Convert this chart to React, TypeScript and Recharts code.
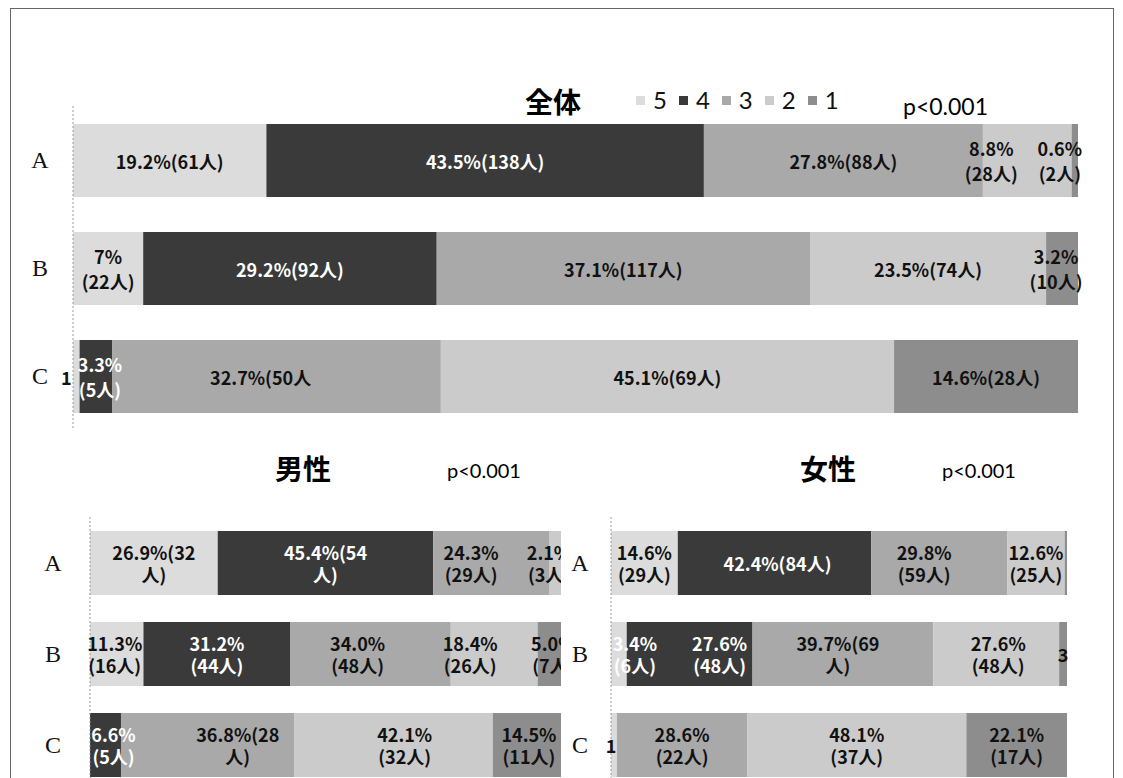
import React from "react";
import { BarChart, Bar, XAxis, YAxis, LabelList, Legend } from "recharts";

// Response levels (stack order, left to right) and question rows
const LEVELS = ["5", "4", "3", "2", "1"];
const ROWS = ["A", "B", "C"];

// 全体: respondents per level, rows A/B/C
const allCount5 = [61, 22, 1];
const allCount4 = [138, 92, 5];
const allCount3 = [88, 117, 50];
const allCount2 = [28, 74, 69];
const allCount1 = [2, 10, 28];

// 男性
const maleCount5 = [32, 16, 0];
const maleCount4 = [54, 44, 5];
const maleCount3 = [29, 48, 28];
const maleCount2 = [3, 26, 32];
const maleCount1 = [0, 7, 11];

// 女性
const femaleCount5 = [29, 6, 1];
const femaleCount4 = [84, 48, 0];
const femaleCount3 = [59, 69, 22];
const femaleCount2 = [25, 48, 37];
const femaleCount1 = [1, 3, 17];

// Data label texts ("\n" splits a label into two lines)
const allText5 = ["19.2%(61人)", "7%\n(22人)", "1"];
const allText4 = ["43.5%(138人)", "29.2%(92人)", "3.3%\n(5人)"];
const allText3 = ["27.8%(88人)", "37.1%(117人)", "32.7%(50人"];
const allText2 = ["8.8%\n(28人)", "23.5%(74人)", "45.1%(69人)"];
const allText1 = ["0.6%\n(2人)", "3.2%\n(10人)", "14.6%(28人)"];

const maleText5 = ["26.9%(32\n人)", "11.3%\n(16人)", ""];
const maleText4 = ["45.4%(54\n人)", "31.2%\n(44人)", "6.6%\n(5人)"];
const maleText3 = ["24.3%\n(29人)", "34.0%\n(48人)", "36.8%(28\n人)"];
const maleText2 = ["2.1%\n(3人)", "18.4%\n(26人)", "42.1%\n(32人)"];
const maleText1 = ["", "5.0%\n(7人)", "14.5%\n(11人)"];

const femaleText5 = ["14.6%\n(29人)", "3.4%\n(6人)", "1"];
const femaleText4 = ["42.4%(84人)", "27.6%\n(48人)", ""];
const femaleText3 = ["29.8%\n(59人)", "39.7%(69\n人)", "28.6%\n(22人)"];
const femaleText2 = ["12.6%\n(25人)", "27.6%\n(48人)", "48.1%\n(37人)"];
const femaleText1 = ["", "3", "22.1%\n(17人)"];

const P_TEXT = "p<0.001";

// ---- styling ----
const FILLS: Record<string, string> = {
  "5": "#dcdcdc",
  "4": "#3a3a3a",
  "3": "#a9a9a9",
  "2": "#cbcbcb",
  "1": "#8d8d8d",
};
const LABEL_FONT = "'Noto Sans CJK JP', 'Noto Sans', sans-serif";
const LATIN_FONT = "Lato, 'Open Sans', sans-serif";

// horizontal nudges of data labels, per level, per row
const allShift: Record<string, number[]> = {
  "5": [0, 0, -10],
  "4": [0, 0, 4],
  "3": [0, 0, -16],
  "2": [-36, 0, 0],
  "1": [-15, -6, 0],
};
const maleShift: Record<string, number[]> = {
  "5": [0, -2, 0],
  "4": [0, 0, 8],
  "3": [-20, -13, 30],
  "2": [-6, -24, 11],
  "1": [0, 4, 2],
};
const femaleShift: Record<string, number[]> = {
  "5": [0, 16, -3],
  "4": [3, 30, 0],
  "3": [-15, -5, 0],
  "2": [0, 2, 0],
  "1": [0, 0, 0],
};

function buildRows(c5: number[], c4: number[], c3: number[], c2: number[], c1: number[]) {
  return ROWS.map((name, i) => ({ name, l5: c5[i], l4: c4[i], l3: c3[i], l2: c2[i], l1: c1[i] }));
}

const allData = buildRows(allCount5, allCount4, allCount3, allCount2, allCount1);
const maleData = buildRows(maleCount5, maleCount4, maleCount3, maleCount2, maleCount1);
const femaleData = buildRows(femaleCount5, femaleCount4, femaleCount3, femaleCount2, femaleCount1);

const allTexts: Record<string, string[]> = { "5": allText5, "4": allText4, "3": allText3, "2": allText2, "1": allText1 };
const maleTexts: Record<string, string[]> = { "5": maleText5, "4": maleText4, "3": maleText3, "2": maleText2, "1": maleText1 };
const femaleTexts: Record<string, string[]> = { "5": femaleText5, "4": femaleText4, "3": femaleText3, "2": femaleText2, "1": femaleText1 };

function labelColor(level: string, override: string[] | undefined, row: number) {
  if (override && override[row]) return override[row];
  return level === "4" ? "#ffffff" : "#111111";
}

// The label list is keyed on the row name so each label finds its own row
function makeLabel(
  level: string,
  texts: string[],
  shifts: number[],
  lineGap: number,
  colorOverride?: string[]
) {
  return (props: any) => {
    const vb = props.viewBox && typeof props.viewBox.width === "number" ? props.viewBox : props;
    const { x, y, width, height } = vb;
    const row = ROWS.indexOf(String(props.value));
    if (row < 0) return null;
    const text = texts[row];
    if (!text) return null;
    const lines = text.split("\n");
    const fontSize = 18;
    const cx = x + width / 2 + (shifts[row] || 0);
    const cy = y + height / 2 + 2;
    const fill = labelColor(level, colorOverride, row);
    return (
      <text
        key={`lbl-${level}-${row}`}
        textAnchor="middle"
        fontFamily={LABEL_FONT}
        fontWeight={700}
        fontSize={fontSize}
        fill={fill}
      >
        {lines.map((ln, i) => (
          <tspan key={i} x={cx} y={cy + (i - (lines.length - 1) / 2) * lineGap + fontSize * 0.36}>
            {ln}
          </tspan>
        ))}
      </text>
    );
  };
}

function categoryTick(offset: number) {
  return (props: any) => {
    const { x, y, payload } = props;
    return (
      <text
        x={x - offset}
        y={y + 8}
        textAnchor="middle"
        fontFamily="'Liberation Serif', 'DejaVu Serif', serif"
        fontSize={24}
        fill="#111"
      >
        {payload.value}
      </text>
    );
  };
}

const renderLegend = (props: any) => {
  const items = [...(props.payload || [])].sort(
    (a: any, b: any) => LEVELS.indexOf(String(a.value)) - LEVELS.indexOf(String(b.value))
  );
  return (
    <div style={{ display: "flex", alignItems: "center", fontFamily: LATIN_FONT, fontSize: 24, color: "#111", lineHeight: 1 }}>
      {items.map((it: any) => (
        <div key={it.value} style={{ display: "flex", alignItems: "center", marginRight: 12 }}>
          <span style={{ display: "inline-block", width: 9, height: 9, background: it.color, marginRight: 8 }} />
          <span>{it.value}</span>
        </div>
      ))}
    </div>
  );
};

type PanelProps = {
  data: any[];
  texts: Record<string, string[]>;
  shifts: Record<string, number[]>;
  width: number;
  height: number;
  margin: { top: number; right: number; bottom: number; left: number };
  axisWidth: number;
  barSize: number;
  tickOffset: number;
  lineGap: number;
  colorOverride?: Record<string, string[]>;
  withLegend?: boolean;
};

function Panel(p: PanelProps) {
  return (
    <BarChart
      width={p.width}
      height={p.height}
      data={p.data}
      layout="vertical"
      stackOffset="expand"
      margin={p.margin}
      barSize={p.barSize}
    >
      <XAxis type="number" hide domain={[0, 1]} />
      <YAxis
        type="category"
        dataKey="name"
        width={p.axisWidth}
        tickSize={0}
        tickMargin={0}
        tickLine={false}
        axisLine={{ stroke: "#9a9a9a", strokeDasharray: "2 2" }}
        tick={categoryTick(p.tickOffset)}
      />
      {p.withLegend && (
        <Legend
          layout="horizontal"
          verticalAlign="middle"
          align="center"
          content={renderLegend}
          wrapperStyle={{ position: "absolute", top: 88, left: 636, width: "auto" }}
        />
      )}
      {LEVELS.map((lv) => (
        <Bar key={lv} dataKey={`l${lv}`} name={lv} stackId="s" fill={FILLS[lv]} isAnimationActive={false}>
          <LabelList
            dataKey="name"
            content={makeLabel(lv, p.texts[lv], p.shifts[lv], p.lineGap, p.colorOverride ? p.colorOverride[lv] : undefined)}
          />
        </Bar>
      ))}
    </BarChart>
  );
}

const abs = (style: React.CSSProperties): React.CSSProperties => ({ position: "absolute", ...style });

export default function App() {
  return (
    <div style={{ position: "fixed", left: 0, top: 0, width: 1123, height: 778, overflow: "hidden", background: "#fff" }}>
      <div style={abs({ left: 10, top: 8, width: 1102, height: 800, border: "1px solid #666" })} />

      {/* 全体 */}
      <div style={abs({ left: 0, top: 0, width: 1090, height: 440, overflow: "hidden" })}>
        <Panel
          data={allData}
          texts={allTexts}
          shifts={allShift}
          width={1090}
          height={440}
          margin={{ top: 106, right: 12, bottom: 10, left: 0 }}
          axisWidth={73}
          barSize={73}
          tickOffset={33}
          lineGap={25}
          withLegend
        />
      </div>
      <div style={abs({ left: 553, top: 101, transform: "translate(-50%, -50%)", fontFamily: LABEL_FONT, fontWeight: 700, fontSize: 28, lineHeight: 1 })}>
        全体
      </div>
      <div style={abs({ left: 903, top: 106, transform: "translateY(-50%)", fontFamily: LATIN_FONT, fontSize: 23, lineHeight: 1 })}>
        {P_TEXT}
      </div>

      {/* 男性 */}
      <div style={abs({ left: 0, top: 500, width: 561, height: 278, overflow: "hidden" })}>
        <Panel
          data={maleData}
          texts={maleTexts}
          shifts={maleShift}
          width={561}
          height={300}
          margin={{ top: 17, right: 0, bottom: 10, left: 0 }}
          axisWidth={90}
          barSize={64}
          tickOffset={37}
          lineGap={22}
        />
      </div>
      <div style={abs({ left: 303, top: 468, transform: "translate(-50%, -50%)", fontFamily: LABEL_FONT, fontWeight: 700, fontSize: 28, lineHeight: 1 })}>
        男性
      </div>
      <div style={abs({ left: 447, top: 470, transform: "translateY(-50%)", fontFamily: LATIN_FONT, fontSize: 20, lineHeight: 1 })}>
        {P_TEXT}
      </div>

      {/* 女性 */}
      <div style={abs({ left: 561, top: 500, width: 562, height: 278, overflow: "hidden" })}>
        <Panel
          data={femaleData}
          texts={femaleTexts}
          shifts={femaleShift}
          width={562}
          height={300}
          margin={{ top: 17, right: 56, bottom: 10, left: 0 }}
          axisWidth={50}
          barSize={64}
          tickOffset={31}
          lineGap={22}
          colorOverride={{ "5": ["", "#ffffff", ""] }}
        />
      </div>
      <div style={abs({ left: 828, top: 468, transform: "translate(-50%, -50%)", fontFamily: LABEL_FONT, fontWeight: 700, fontSize: 28, lineHeight: 1 })}>
        女性
      </div>
      <div style={abs({ left: 942, top: 470, transform: "translateY(-50%)", fontFamily: LATIN_FONT, fontSize: 20, lineHeight: 1 })}>
        {P_TEXT}
      </div>
    </div>
  );
}
